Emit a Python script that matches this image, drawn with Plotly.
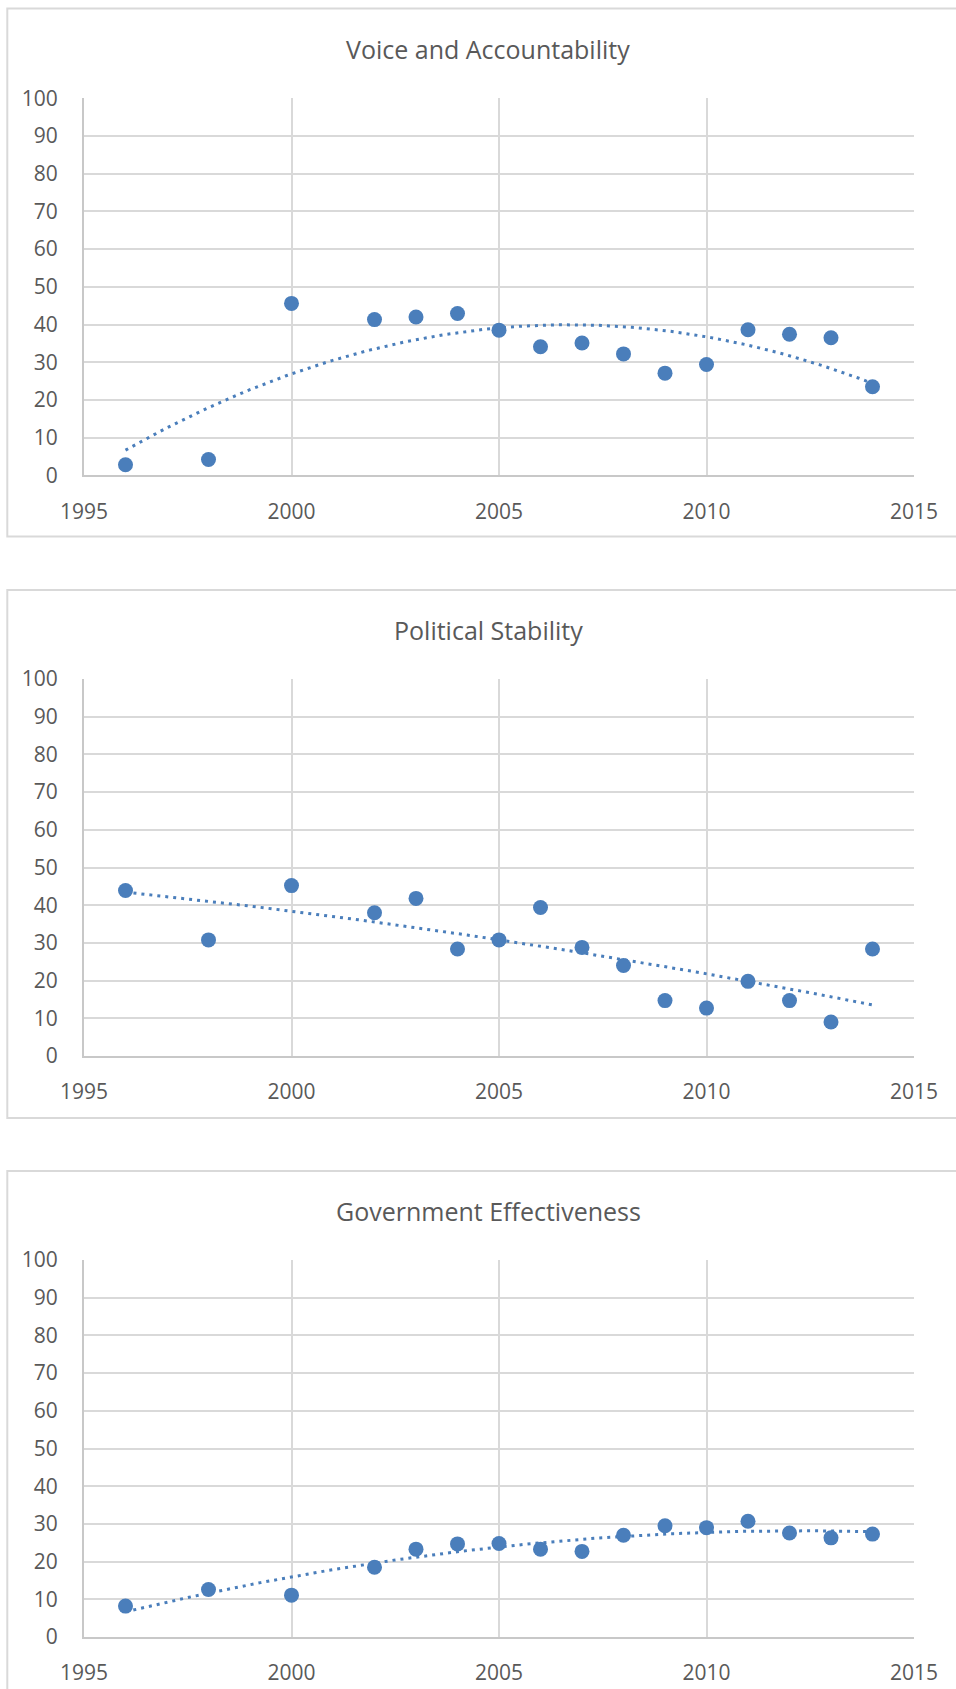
import numpy as np
import plotly.graph_objects as go

# ---------------- data ----------------
years = [1996, 1998, 2000, 2002, 2003, 2004, 2005, 2006, 2007, 2008,
         2009, 2010, 2011, 2012, 2013, 2014]

voice_accountability = [2.8, 4.2, 45.6, 41.3, 42.0, 42.9, 38.5, 34.1, 35.1, 32.2,
                        27.1, 29.4, 38.6, 37.4, 36.5, 23.5]
political_stability = [43.9, 30.8, 45.2, 38.0, 41.8, 28.4, 30.8, 39.4, 28.8, 24.0,
                       14.7, 12.7, 19.8, 14.7, 9.0, 28.4]
government_effectiveness = [8.2, 12.6, 11.1, 18.5, 23.3, 24.7, 24.8, 23.3, 22.7, 27.0,
                            29.5, 29.0, 30.7, 27.6, 26.3, 27.3]

titles = ["Voice and Accountability", "Political Stability", "Government Effectiveness"]
series = [voice_accountability, political_stability, government_effectiveness]
trend_degree = [2, 2, 2]

x_ticks = [1995, 2000, 2005, 2010, 2015]
y_ticks = [0, 10, 20, 30, 40, 50, 60, 70, 80, 90, 100]

# ---------------- layout geometry (pixels) ----------------
W, H = 956, 1689
box_tops = [8.5, 590, 1171]
plot_tops = [98.3, 679, 1260]
plot_h = 377
box_h = 528
plot_left, plot_right = 84, 914
box_left, box_right = 7.3, 975
title_center = 488

BLUE = "#4A7EBB"
GRID = "#D9D9D9"
TEXT = "#595959"
FONT = "Open Sans"


def fy(p):
    return 1 - p / H


fig = go.Figure()
shapes = []
annotations = []

for i in range(3):
    xa = "x" if i == 0 else f"x{i+1}"
    ya = "y" if i == 0 else f"y{i+1}"
    yrs = np.array(years, dtype=float)
    vals = np.array(series[i], dtype=float)

    # trendline (polynomial fit of the data, as in the original)
    coef = np.polyfit(yrs - 2005, vals, trend_degree[i])
    tx = np.linspace(yrs.min(), yrs.max(), 200)
    ty = np.polyval(coef, tx - 2005)
    fig.add_trace(go.Scatter(x=tx, y=ty, mode="lines", xaxis=xa, yaxis=ya,
                             line=dict(color=BLUE, width=3, dash="3px,5px"),
                             hoverinfo="skip", showlegend=False))
    fig.add_trace(go.Scatter(x=years, y=series[i], mode="markers", xaxis=xa, yaxis=ya,
                             marker=dict(color=BLUE, size=15, line=dict(width=0)),
                             showlegend=False))

    top = plot_tops[i]
    bottom = top + plot_h
    axis_common = dict(showgrid=True, gridcolor=GRID, gridwidth=2, zeroline=False,
                       tickfont=dict(family=FONT, size=21, color=TEXT),
                       ticks="outside", tickcolor="rgba(0,0,0,0)",
                       showline=True, linecolor="#C8C8C8", linewidth=2,
                       automargin=False)
    fig.layout[("xaxis" if i == 0 else f"xaxis{i+1}")] = dict(
        axis_common, domain=[plot_left / W, plot_right / W], anchor=ya,
        range=[1995, 2015], tickvals=x_ticks, ticktext=[str(t) for t in x_ticks],
        ticklen=16)
    fig.layout[("yaxis" if i == 0 else f"yaxis{i+1}")] = dict(
        axis_common, domain=[fy(bottom), fy(top)], anchor=xa,
        range=[0, 100], tickvals=y_ticks, ticktext=[str(t) for t in y_ticks],
        ticklen=20)

    bt = box_tops[i]
    shapes.append(dict(type="rect", xref="paper", yref="paper",
                       x0=box_left / W, x1=box_right / W,
                       y0=fy(bt + box_h), y1=fy(bt),
                       line=dict(color=GRID, width=2), fillcolor="rgba(0,0,0,0)",
                       layer="below"))
    annotations.append(dict(text=titles[i], xref="paper", yref="paper",
                            x=title_center / W, y=fy(bt + 40),
                            xanchor="center", yanchor="middle", showarrow=False,
                            font=dict(family=FONT, size=25, color=TEXT)))

fig.update_layout(width=W, height=H, margin=dict(l=0, r=0, t=0, b=0, autoexpand=False),
                  paper_bgcolor="white", plot_bgcolor="white",
                  shapes=shapes, annotations=annotations, showlegend=False)

fig.write_html("out.html")
